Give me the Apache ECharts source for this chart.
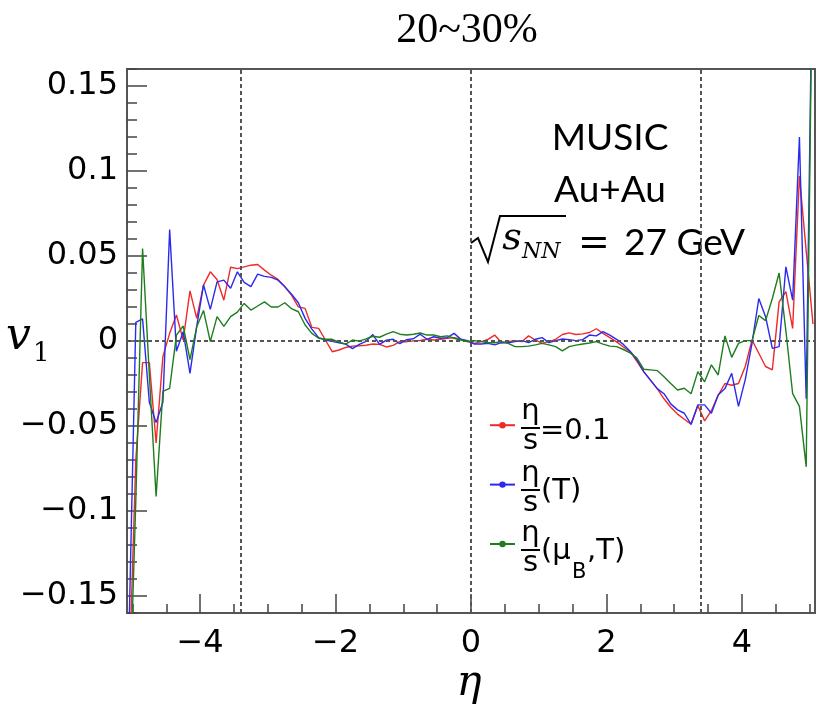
<!DOCTYPE html>
<html><head><meta charset="utf-8">
<script src="https://cdn.jsdelivr.net/npm/echarts@6/dist/echarts.min.js"></script>
<style>html,body{margin:0;padding:0;background:#fff}#c{width:817px;height:712px}</style>
</head><body><div id="c"></div>
<script>
// pseudorapidity bin centres
const eta = [
 -5.05,-4.95,-4.85,-4.75,-4.65,-4.55,-4.45,-4.35,-4.25,-4.15,
 -4.05,-3.95,-3.85,-3.75,-3.65,-3.55,-3.45,-3.35,-3.25,-3.15,
 -3.05,-2.95,-2.85,-2.75,-2.65,-2.55,-2.45,-2.35,-2.25,-2.15,
 -2.05,-1.95,-1.85,-1.75,-1.65,-1.55,-1.45,-1.35,-1.25,-1.15,
 -1.05,-0.95,-0.85,-0.75,-0.65,-0.55,-0.45,-0.35,-0.25,-0.15,
 -0.05,0.05,0.15,0.25,0.35,0.45,0.55,0.65,0.75,0.85,
 0.95,1.05,1.15,1.25,1.35,1.45,1.55,1.65,1.75,1.85,
 1.95,2.05,2.15,2.25,2.35,2.45,2.55,2.65,2.75,2.85,
 2.95,3.05,3.15,3.25,3.35,3.45,3.55,3.65,3.75,3.85,
 3.95,4.05,4.15,4.25,4.35,4.45,4.55,4.65,4.75,4.85,
 4.95,5.05
];
// v1 for eta/s = 0.1 (red)
const v1Const = [
 -0.20,-0.07,-0.0127,-0.0127,-0.060,-0.0092,0.0045,0.0153,0.0006,0.0295,
 0.0133,0.0329,0.0407,0.0362,0.024,0.0434,0.0426,0.0436,0.0446,0.045,
 0.0417,0.0387,0.0362,0.0319,0.027,0.0201,0.0192,0.008,0.0074,0.0006,
 -0.0063,-0.0053,-0.0038,-0.003,-0.0028,-0.0025,-0.0018,-0.002,-0.0035,-0.0026,
 -0.0004,-0.0004,0.0001,0.0003,0.001,0.0006,0.001,0.0016,0.002,0.001,
 -0.0004,-0.0014,-0.0004,0.001,0.0035,-0.001,-0.0004,0.0002,-0.0004,0.003,
 0.0006,-0.0014,-0.0004,0.001,0.0038,0.0048,0.0038,0.0042,0.005,0.0072,
 0.0045,0.002,-0.0005,-0.0035,-0.0063,-0.012,-0.018,-0.023,-0.028,-0.034,
 -0.039,-0.043,-0.046,-0.049,-0.038,-0.047,-0.041,-0.032,-0.025,-0.026,
 -0.025,-0.015,0.0006,-0.0072,-0.015,-0.017,0.023,0.029,0.0074,0.097,
 0.053,0.010
];
// v1 for eta/s(T) (blue)
const v1T = [
 -0.17,0.011,0.013,-0.036,-0.048,-0.036,0.0655,-0.006,0.0055,-0.019,
 0.0088,0.033,0.0186,0.0348,0.0358,0.031,0.0407,0.0345,0.032,0.0393,
 0.038,0.0374,0.0358,0.032,0.0275,0.0225,0.0133,0.007,0.002,0.0006,
 -0.0002,-0.001,-0.0018,-0.0045,-0.002,-0.0002,0.0038,-0.002,0.0005,0.001,
 -0.0016,0.0008,0.0013,0.004,0.001,0.0025,0.0016,0.002,0.0045,0.001,
 0.0002,-0.0018,-0.0018,-0.0014,-0.0023,-0.001,-0.001,-0.0004,0.0002,-0.001,
 0.001,0.002,-0.001,0.0002,0.0012,0.0008,0.0002,0.0008,0.0035,0.003,
 0.0055,0.0035,0.001,-0.002,-0.006,-0.011,-0.018,-0.023,-0.028,-0.031,
 -0.037,-0.0405,-0.0425,-0.049,-0.0376,-0.0376,-0.0425,-0.0317,-0.028,-0.019,
 -0.0385,-0.0227,-0.0014,0.025,0.0143,-0.0043,-0.0033,0.0436,0.024,0.12,
 -0.034,0.25
];
// v1 for eta/s(muB,T) (green)
const v1MuBT = [
 -0.226,-0.094,0.0544,-0.02,-0.0914,-0.0297,-0.0278,0.0035,0.0088,-0.011,
 0.0084,0.018,-0.0004,0.0143,0.0086,0.0143,0.017,0.0221,0.0182,0.0206,
 0.023,0.02,0.02,0.0225,0.019,0.0172,0.0094,0.0045,0.0016,0.001,
 0.001,-0.0007,-0.0018,0.0006,-0.0001,0.0013,0.0028,0.0022,0.004,0.0055,
 0.004,0.0035,0.004,0.0047,0.0035,0.0035,0.0025,0.003,0.0016,0.0006,
 -0.0004,0.0002,-0.0004,-0.001,-0.001,-0.0004,-0.0014,-0.0033,-0.0033,-0.003,
 -0.0023,-0.0014,-0.0023,-0.0033,-0.0058,-0.0033,-0.0024,-0.0018,-0.0012,-0.0004,
 -0.0018,-0.003,-0.0033,-0.005,-0.007,-0.010,-0.0166,-0.017,-0.0174,-0.021,
 -0.025,-0.0288,-0.0278,-0.031,-0.018,-0.024,-0.014,-0.020,0.003,-0.0096,
 -0.0014,0.0002,0.0002,0.015,0.012,0.025,0.04,0.006,-0.031,-0.0385,
 -0.074,0.25
];
const seriesNames = ['eta/s=0.1', 'eta/s(T)', 'eta/s(muB,T)'];
const seriesColors = ['#ee2a2a', '#2a2aee', '#1e7d1e'];
const xMajorTicks = [-4, -2, 0, 2, 4];
const xMinorTicks = [-5,-4.5,-4,-3.5,-3,-2.5,-2,-1.5,-1,-0.5,0,0.5,1,1.5,2,2.5,3,3.5,4,4.5,5];
const yMajorTicks = [-0.15, -0.1, -0.05, 0, 0.05, 0.1, 0.15];
const yMinorTicks = [-0.16,-0.15,-0.14,-0.13,-0.12,-0.11,-0.1,-0.09,-0.08,-0.07,-0.06,-0.05,-0.04,-0.03,-0.02,-0.01,0,
  0.01,0.02,0.03,0.04,0.05,0.06,0.07,0.08,0.09,0.1,0.11,0.12,0.13,0.14,0.15,0.16];
const refLinesX = [-3.4, 0, 3.4];
const refLinesY = [0];

const fmt = v => (v < 0 ? '\u2212' : '') + String(Math.abs(v));
const XMIN = -5.08, XMAX = 5.08, YMIN = -0.16, YMAX = 0.16;
const tickColor = '#444';

const chart = echarts.init(document.getElementById('c'), null, {renderer: 'canvas'});

function txt(text, x, y, font, align, extra) {
  return Object.assign({
    type: 'text', x: x, y: y, silent: true,
    style: {text: text, font: font, fill: '#000', textAlign: align || 'center', textVerticalAlign: 'middle',
            align: align || 'center', verticalAlign: 'middle'}
  }, extra || {});
}
const LF = '29px "DejaVu Sans"';
function frac(yBar) {
  return [
    txt('\u03b7', 530.5, yBar - 17, LF),
    {type: 'rect', silent: true, shape: {x: 521, y: yBar - 1, width: 19, height: 2}, style: {fill: '#000'}},
    txt('s', 530.5, yBar + 13, LF)
  ];
}
const graphics = [].concat(
  [txt('20~30%', 467, 31, '42px "Liberation Serif"')],
  [txt('MUSIC', 610, 138, '37px Lato')],
  [txt('Au+Au', 610, 190, '37px Lato')],
  [{type: 'polyline', silent: true, shape: {points: [[471, 243], [478, 238], [488, 262], [500, 216], [566, 216]]},
    style: {stroke: '#000', lineWidth: 2, fill: null}}],
  [txt('s', 512, 239, 'italic 38px "DejaVu Serif"')],
  [txt('NN', 522, 252, 'italic 22px "DejaVu Serif"', 'left')],
  [txt('=', 594, 244, '38px "DejaVu Sans"')],
  [txt('27 GeV', 624, 243, '37px Lato', 'left')],
  [txt('v', 6, 338, 'italic 44px "DejaVu Serif"', 'left')],
  [txt('1', 33, 354, '26px "DejaVu Serif"', 'left')],
  [txt('\u03b7', 469, 684, 'italic 42px "DejaVu Serif"')],
  frac(428), [txt('=0.1', 540, 431, LF, 'left')],
  frac(490), [txt('(T)', 541, 491, LF, 'left')],
  frac(550), [txt('(\u03bc', 541, 551, LF, 'left')],
  [txt('B', 572, 573, '21px "DejaVu Sans"', 'left')],
  [txt(',T)', 587, 551, LF, 'left')]
);

const dataSets = [v1Const, v1T, v1MuBT];
const series = dataSets.map((vals, i) => ({
  name: seriesNames[i], type: 'line', xAxisIndex: 0, yAxisIndex: 0,
  data: eta.map((x, k) => [x, vals[k]]),
  showSymbol: false, symbol: 'circle', symbolSize: 6,
  lineStyle: {color: seriesColors[i], width: 1.4},
  itemStyle: {color: seriesColors[i]},
  clip: true, z: 3 + i
}));
series[0].markLine = {
  silent: true, symbol: 'none', label: {show: false}, animation: false,
  lineStyle: {color: '#555', width: 2, type: [4, 3]},
  data: refLinesX.map(x => ({xAxis: x})).concat(refLinesY.map(y => ({yAxis: y})))
};

const noLine = {show: false, onZero: false};
chart.setOption({
  animation: false,
  backgroundColor: '#fff',
  grid: {left: 127, right: 2, top: 69, bottom: 99, show: true, borderColor: '#555', borderWidth: 2, backgroundColor: 'transparent'},
  xAxis: [
    {type: 'value', min: XMIN, max: XMAX, position: 'bottom',
     axisLine: noLine, splitLine: {show: false},
     axisTick: {show: true, inside: true, length: 19, customValues: xMajorTicks, lineStyle: {color: tickColor, width: 1.5}},
     axisLabel: {customValues: xMajorTicks, formatter: fmt, fontFamily: 'DejaVu Sans', fontSize: 32, color: '#000', margin: 15}},
    {type: 'value', min: XMIN, max: XMAX, position: 'bottom',
     axisLine: noLine, splitLine: {show: false},
     axisTick: {show: true, inside: true, length: 9, customValues: xMinorTicks, lineStyle: {color: tickColor, width: 1.5}},
     axisLabel: {show: false}}
  ],
  yAxis: [
    {type: 'value', min: YMIN, max: YMAX, position: 'left',
     axisLine: noLine, splitLine: {show: false},
     axisTick: {show: true, inside: true, length: 20, customValues: yMajorTicks, lineStyle: {color: tickColor, width: 1.5}},
     axisLabel: {customValues: yMajorTicks, formatter: fmt, fontFamily: 'DejaVu Sans', fontSize: 32, color: '#000', margin: 9}},
    {type: 'value', min: YMIN, max: YMAX, position: 'left',
     axisLine: noLine, splitLine: {show: false},
     axisTick: {show: true, inside: true, length: 10, customValues: yMinorTicks, lineStyle: {color: tickColor, width: 1.5}},
     axisLabel: {show: false}}
  ],
  legend: {
    data: seriesNames, orient: 'vertical', left: 489, top: 422, padding: 0,
    itemWidth: 25, itemHeight: 8, itemGap: 53, selectedMode: false,
    formatter: () => '', textStyle: {fontSize: 8, lineHeight: 8}
  },
  series: series,
  graphic: graphics
});
</script></body></html>
